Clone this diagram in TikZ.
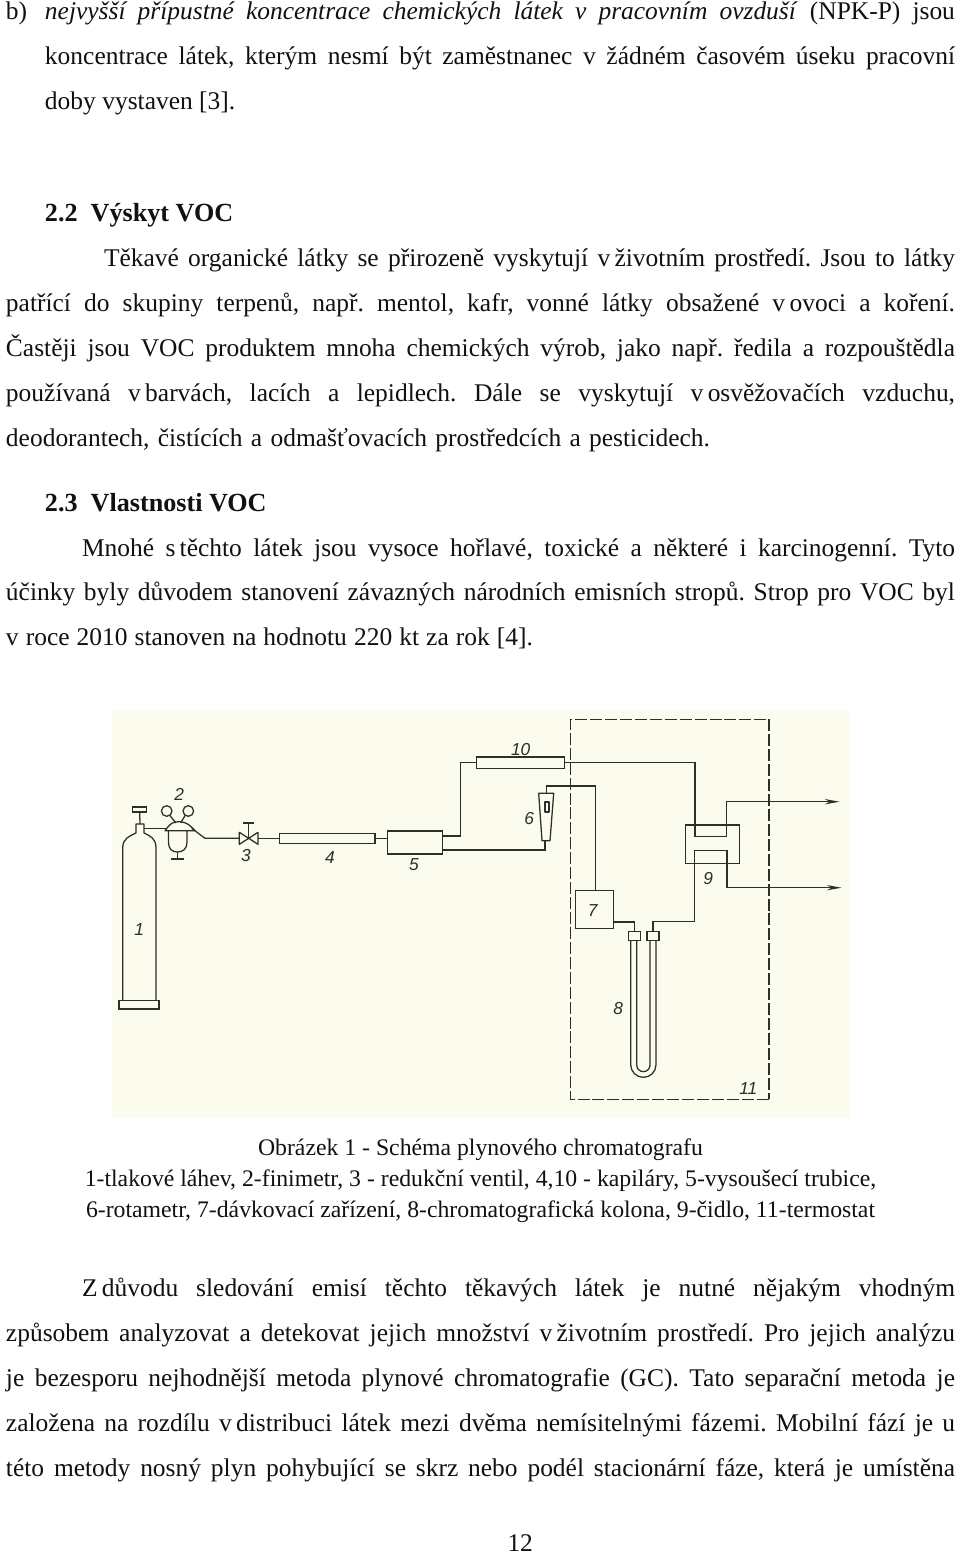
\documentclass[tikz,border=0pt]{standalone}
\usepackage{fontspec}
\setmainfont{Liberation Serif}
\newfontfamily\numfont{Liberation Sans}
\usetikzlibrary{arrows.meta,calc}
\newdimen\pxu \pxu=.75pt
\newcommand\nbs{\kern.17em\relax}
\newcommand\jl[5]{\node[txt] (#1) at (#2,#4) {\makebox[\dimexpr #3\pxu-#2\pxu\relax][s]{#5}};}
\newcommand\tl[4]{\node[txt] (#1) at (#2,#3) {#4};}
\newcommand\cl[3]{\node[captxt] (#1) at (480.5,#2) {#3};}
\newcommand\pbox[6][]{\pgfmathsetmacro\cxx{(#3+#5)/2}\pgfmathsetmacro\cyy{(#4+#6)/2}%
  \node[partbox,minimum width={(#5-#3)*0.75},minimum height={(#6-#4)*0.75},#1] (#2) at (\cxx,\cyy) {};}
\definecolor{ink}{HTML}{2E2E2A}
\definecolor{paper}{HTML}{FBFBEE}
\definecolor{bodyink}{HTML}{111111}
\tikzset{
  txt/.style={anchor=base west,inner sep=0,outer sep=0,text=bodyink,font=\frenchspacing\fontsize{19.1}{22}\selectfont},
  headtxt/.style={txt,font=\frenchspacing\fontsize{19.6}{22}\selectfont\bfseries},
  captxt/.style={anchor=base,inner sep=0,outer sep=0,text=bodyink,font=\frenchspacing\fontsize{17.8}{20}\selectfont},
  partbox/.style={draw=ink,line width=0.95pt,inner sep=0,outer sep=0,fill=none},
  pipe/.style={draw=ink,line width=0.95pt,line join=miter},
  part/.style={draw=ink,line width=0.95pt,line join=round},
  flowout/.style={pipe,-{Stealth[length=11pt,width=4pt]}},
  oven/.style={draw=ink,line width=0.95pt,dash pattern=on 9pt off 2.2pt},
  ovenb/.style={draw=ink,line width=1.5pt,dash pattern=on 9pt off 2.2pt},
  num/.style={inner sep=0,outer sep=0,text=ink,font=\numfont\itshape\fontsize{13}{15}\selectfont},
}
\begin{document}
\begin{tikzpicture}[x=.75pt,y=-.75pt]
\useasboundingbox (0,0) rectangle (960,1554);
\fill[white] (0,0) rectangle (960,1554);
% upper text
\tl{lb}{6}{19}{b)}
\jl{l1}{45}{955}{19}{\textit{nejvyšší přípustné koncentrace chemických látek v pracovním ovzduší} (NPK-P) jsou}
\jl{l2}{45}{955}{64}{koncentrace látek, kterým nesmí být zaměstnanec v žádném časovém úseku pracovní}
\tl{l3}{45}{109}{doby vystaven [3].}
\node[headtxt] (h22) at (45,221) {2.2\ \ Výskyt VOC};
\jl{l4}{104}{955}{266}{Těkavé organické látky se přirozeně vyskytují v\nbs životním prostředí. Jsou to látky}
\jl{l5}{6}{955}{311}{patřící do skupiny terpenů, např. mentol, kafr, vonné látky obsažené v\nbs ovoci a koření.}
\jl{l6}{6}{955}{356}{Častěji jsou VOC produktem mnoha chemických výrob, jako např. ředila a rozpouštědla}
\jl{l7}{6}{955}{401}{používaná v\nbs barvách, lacích a lepidlech. Dále se vyskytují v\nbs osvěžovačích vzduchu,}
\jl{l8}{6}{710}{446}{deodorantech, čistících a odmašťovacích prostředcích a pesticidech.}
\node[headtxt] (h23) at (45,511) {2.3\ \ Vlastnosti VOC};
\jl{l9}{82}{955}{556}{Mnohé s\nbs těchto látek jsou vysoce hořlavé, toxické a některé i karcinogenní. Tyto}
\jl{l10}{6}{955}{600}{účinky byly důvodem stanovení závazných národních emisních stropů. Strop pro VOC byl}
\jl{l11}{6}{533}{645}{v roce 2010 stanoven na hodnotu 220 kt za rok [4].}
% figure
\node[fill=paper,inner sep=0,outer sep=0,minimum width={738*0.75},minimum height={407*0.75}] (figbg) at (481,914.5) {};
% oven 11
\coordinate (ovTL) at (570.7,719.3);
\coordinate (ovTR) at (768.7,719.3);
\coordinate (ovBR) at (768.7,1099.3);
\coordinate (ovBL) at (570.7,1099.3);
\draw[oven] (ovBR) -- (ovBL) -- (ovTL) -- (ovTR);
\draw[ovenb] (ovTR) -- (ovBR);
% cylinder
\pbox{cylbase}{119}{1000.7}{159}{1009}
\pbox{cylcap}{132.7}{807}{146.7}{812}
\coordinate (neckL) at (136,824);
\coordinate (neckR) at (144,824);
\draw[part] (122.7,1000.7) -- (122.7,848) .. controls (122.7,838) and (130,836) .. (136,833) -- (neckL) -- (neckR) -- (144,833) .. controls (150,836) and (156,838) .. (156,848) -- (156,1000.7);
\draw[pipe] (cylcap.south) -- ($(neckL)!.5!(neckR)$);
% regulator
\coordinate (regL) at (166.7,828.3);
\coordinate (regR) at (191.7,828.3);
\draw[part] (165,830.7) .. controls (170,824) and (172,821.7) .. (179,821.7) .. controls (186,821.7) and (190,825) .. (195,830.7) -- cycle;
\draw[part] (168.5,830.7) -- (168.5,842) .. controls (168.5,849) and (172,852) .. (177.3,852) .. controls (183,852) and (187,849) .. (187,842) -- (187,830.7);
\coordinate (regfoot) at (177.3,859);
\draw[part] (177.3,852) -- (regfoot);
\draw[part] (170.5,859) -- (183.5,859);
\node[circle,draw=ink,line width=.95pt,minimum size={10.6*0.75},inner sep=0,outer sep=0] (g1) at (166.7,811) {};
\node[circle,draw=ink,line width=.95pt,minimum size={10.6*0.75},inner sep=0,outer sep=0] (g2) at (188.3,811) {};
\draw[part] (g1.-55) -- (176,823);
\draw[part] (g2.235) -- (180.7,822.7);
\draw[pipe] (neckR |- regL) -- (regL);
% valve 3
\coordinate (vc) at (248.7,838.3);
\coordinate (vL) at (239.3,838.3);
\coordinate (vR) at (258,838.3);
\draw[part] (239.3,832.3) -- (239.3,844.3) -- (vc) -- cycle;
\draw[part] (258,832.3) -- (258,844.3) -- (vc) -- cycle;
\draw[part] (vc) -- (248.7,823);
\draw[part] (243,823) -- (254.3,823);
\draw[pipe] (regR) -- (205,838.3) -- (vL);
% tubes and boxes
\pbox{t4}{279.3}{833.7}{375}{843.7}
\pbox{b5}{387.3}{831}{442.3}{854}
\pbox{t10}{476.7}{757}{564.7}{768.7}
\pbox{b7}{575.7}{890.3}{613.3}{928.3}
\pbox{b9}{685.7}{825}{739.3}{863.7}
\pbox{capL}{628.3}{931.7}{640.7}{940.3}
\pbox{capR}{647}{931.7}{659}{940.3}
\draw[pipe] (vR) -- (vR -| t4.west);
\draw[pipe] (t4.east) -- (t4.east -| b5.west);
% rotameter 6
\node[inner sep=0,outer sep=0] (rotT) at (546.2,793.3) {};
\node[inner sep=0,outer sep=0] (rotB) at (545,840.7) {};
\draw[part] (538.7,793.3) -- (553.7,793.3) -- (550,840.7) -- (542,840.7) -- cycle;
\draw[part] (545,802) rectangle (549,812);
% connections
\draw[pipe] (b5.east |- 0,836) -| (460.3,762.7) -- (t10.west |- 0,762.7);
\draw[pipe] (b5.east |- 0,850) -| (rotB);
\draw[pipe] (rotT) |- (595.7,786) -- (595.7,786 |- b7.north);
\coordinate (out1) at (839.5,801.7);
\coordinate (out2) at (841.5,887.7);
\draw[flowout] (t10.east |- 0,762.7) -| (695,836.7) -| (726.7,801.7) -- (out1);
\draw[flowout] (694.5,921.7) -- (694.5,850.3) -| (727,887.7) -- (out2);
\draw[pipe] (b7.east |- 0,922) -| (capL.north);
\draw[pipe] (capR.north) |- (694.5,921.7);
% column 8
\draw[part] (630.7,940.3) -- (630.7,1064.7) arc[start angle=180,end angle=0,radius=12.65] -- (656,940.3);
\draw[part] (636.7,940.3) -- (636.7,1065) arc[start angle=180,end angle=0,radius=6.65] -- (650,940.3);
% numbers
\node[num] (n1) at (139.3,930) {1};
\node[num] (n2) at (179.3,794) {2};
\node[num] (n3) at (246,856) {3};
\node[num] (n4) at (330,857.7) {4};
\node[num] (n5) at (414,864.3) {5};
\node[num] (n6) at (529.3,818.3) {6};
\node[num] (n7) at (592.7,911) {7};
\node[num] (n8) at (618.3,1008.3) {8};
\node[num] (n9) at (708.3,879) {9};
\node[num] (n10) at (520.7,749.3) {10};
\node[num] (n11) at (748.3,1089) {11};
% caption
\cl{c1}{1155}{Obrázek 1 - Schéma plynového chromatografu}
\cl{c2}{1186}{1-tlakové láhev, 2-finimetr, 3 - redukční ventil, 4,10 - kapiláry, 5-vysoušecí trubice,}
\cl{c3}{1217}{6-rotametr, 7-dávkovací zařízení, 8-chromatografická kolona, 9-čidlo, 11-termostat}
% lower text
\jl{l12}{82}{955}{1296}{Z\nbs důvodu sledování emisí těchto těkavých látek je nutné nějakým vhodným}
\jl{l13}{6}{955}{1341}{způsobem analyzovat a detekovat jejich množství v\nbs životním prostředí. Pro jejich analýzu}
\jl{l14}{6}{955}{1386}{je bezesporu nejhodnější metoda plynové chromatografie (GC). Tato separační metoda je}
\jl{l15}{6}{955}{1431}{založena na rozdílu v\nbs distribuci látek mezi dvěma nemísitelnými fázemi. Mobilní fází je u}
\jl{l16}{6}{955}{1476}{této metody nosný plyn pohybující se skrz nebo podél stacionární fáze, která je umístěna}
\tl{pg}{507.5}{1551}{12}
\end{tikzpicture}
\end{document}
